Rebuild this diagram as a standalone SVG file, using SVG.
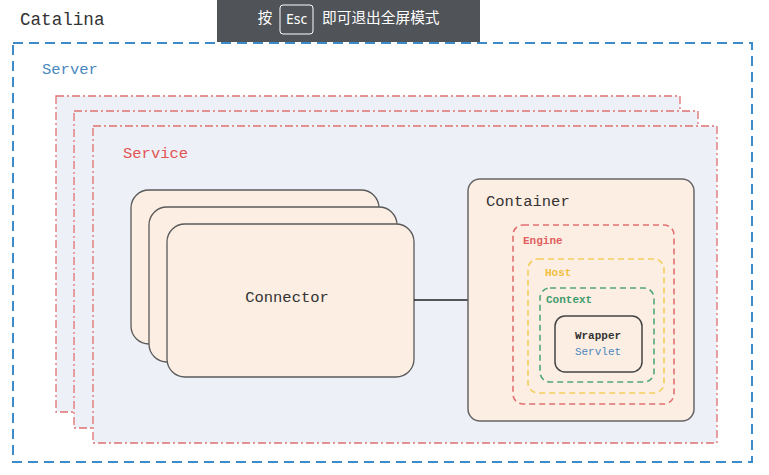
<svg xmlns="http://www.w3.org/2000/svg" width="769" height="475" viewBox="0 0 769 475">
<style>
.mono{font-family:"Liberation Mono","DejaVu Sans Mono",monospace}
.svc{fill:#eef0f7;stroke:#e07070;stroke-width:1.3;stroke-dasharray:8 3 2 3}
.conn{fill:#fdeee3;stroke:#5a5a5a;stroke-width:1.3}
.dash{fill:none;stroke-width:1.6;stroke-dasharray:6 4}
</style>
<rect width="769" height="475" fill="#ffffff"/>
<g id="catalina">
<text x="20" y="25" class="mono" font-size="17.6" fill="#333">Catalina</text>
</g>
<g id="server">
<rect x="13" y="43" width="739" height="419" fill="none" stroke="#3d8bc9" stroke-width="2" stroke-dasharray="10 6"/>
<text x="42" y="74" class="mono" font-size="15.5" fill="#4a88c0">Server</text>
</g>
<g id="service">
<rect class="svc" x="56" y="96" width="624" height="316"/>
<rect class="svc" x="74" y="111" width="624" height="317"/>
<rect class="svc" x="93" y="126" width="624" height="317"/>
<text x="123" y="158" class="mono" font-size="15.5" fill="#e05555">Service</text>
</g>
<g id="connector">
<rect class="conn" x="131" y="190" width="248" height="154" rx="18"/>
<rect class="conn" x="149" y="207" width="248" height="155" rx="18"/>
<rect class="conn" x="167" y="224" width="247" height="153" rx="18"/>
<text x="287" y="302" class="mono" font-size="15.5" fill="#333" text-anchor="middle">Connector</text>
</g>
<g id="connectors">
<line x1="414" y1="300" x2="468" y2="300" stroke="#222" stroke-width="1.5"/>
</g>
<g id="container">
<rect x="468" y="179" width="226" height="242" rx="12" fill="#fdeee3" stroke="#666" stroke-width="1.5"/>
<text x="486" y="206" class="mono" font-size="15.5" fill="#333">Container</text>
</g>
<g id="engine">
<rect class="dash" x="513" y="225" width="161" height="179" rx="10" stroke="#e07070"/>
<text x="523" y="244" class="mono" font-size="11" font-weight="bold" fill="#e06060">Engine</text>
</g>
<g id="host">
<rect class="dash" x="528" y="259" width="136" height="134" rx="10" stroke="#f3cf5a"/>
<text x="545" y="276" class="mono" font-size="11" font-weight="bold" fill="#f0c040">Host</text>
</g>
<g id="context">
<rect class="dash" x="540" y="288" width="114" height="94" rx="10" stroke="#52a87a"/>
<text x="546" y="303" class="mono" font-size="11" font-weight="bold" fill="#3f9c6c">Context</text>
</g>
<g id="wrapper">
<rect x="555" y="316" width="87" height="56" rx="10" fill="#fdeee3" stroke="#444" stroke-width="1.5"/>
<text x="598" y="339" class="mono" font-size="11" font-weight="bold" fill="#333" text-anchor="middle">Wrapper</text>
<text x="598" y="355" class="mono" font-size="11" fill="#4a88c0" text-anchor="middle">Servlet</text>
</g>
<g id="overlay">
<rect x="217" y="0" width="263" height="42" fill="#505358"/>
<text x="265" y="23" font-family="'Noto Sans CJK SC',sans-serif" font-size="14.5" fill="#fff" text-anchor="middle">按</text>
<rect x="280" y="5" width="33" height="29" rx="3" fill="none" stroke="#fff" stroke-width="1"/>
<text x="296.5" y="24" font-family="'Noto Sans','Noto Sans CJK SC',sans-serif" font-size="14" fill="#fff" text-anchor="middle">Esc</text>
<text x="322" y="23" font-family="'Noto Sans CJK SC',sans-serif" font-size="14.7" fill="#fff">即可退出全屏模式</text>
</g>
</svg>
